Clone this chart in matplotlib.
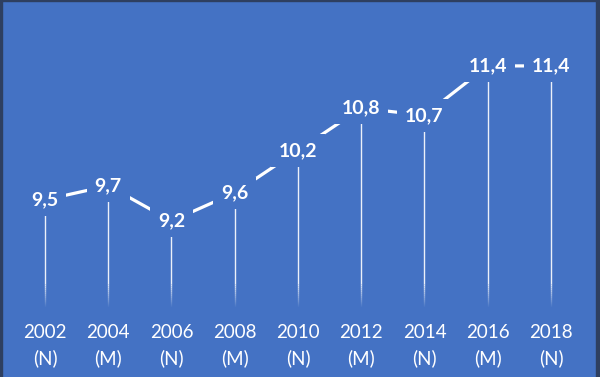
import matplotlib
matplotlib.use('Agg')

import numpy as np
import matplotlib.pyplot as plt
import matplotlib.transforms as mtransforms

years = ['2002', '2004', '2006', '2008', '2010', '2012', '2014', '2016', '2018']
parties = ['(N)', '(M)', '(N)', '(M)', '(N)', '(M)', '(N)', '(M)', '(N)']
values = [9.5, 9.7, 9.2, 9.6, 10.2, 10.8, 10.7, 11.4, 11.4]
value_labels = ['9,5', '9,7', '9,2', '9,6', '10,2', '10,8', '10,7', '11,4', '11,4']

bg = '#4472C4'
border = '#2E3F60'

fig = plt.figure(figsize=(6.0, 3.77), dpi=100)
fig.patch.set_facecolor(bg)
ax = fig.add_axes([0, 0, 1, 1])
ax.set_facecolor(bg)
ax.set_xlim(-0.711, 8.775)
ax.set_ylim(6.987, 12.335)
ax.axis('off')

x = np.arange(len(values))
ybase = 8.0

# drop lines, fading out near the bottom
for xi, v in zip(x, values):
    ax.plot([xi, xi], [8.3, v], color='white', lw=1.0, alpha=0.9, zorder=2,
            solid_capstyle='butt')
    steps = np.linspace(8.3, ybase, 12)
    for k in range(len(steps) - 1):
        a = 0.9 * (1 - (k + 1) / len(steps))
        ax.plot([xi, xi], [steps[k], steps[k + 1]], color='white', lw=1.0,
                alpha=a, zorder=2, solid_capstyle='butt')

ax.plot(x, values, color='white', lw=2.3, zorder=3, solid_capstyle='butt')

for xi, v, lab in zip(x, values, value_labels):
    ax.text(xi, v, lab, color='white', fontsize=14, fontweight='bold',
            family=['Lato', 'DejaVu Sans'], ha='center', va='center', zorder=5,
            bbox=dict(boxstyle='square,pad=0.4', fc=bg, ec='none'))

trans = mtransforms.blended_transform_factory(ax.transData, fig.transFigure)
for xi, yr, p in zip(x, years, parties):
    ax.text(xi, 1 - 333 / 377, yr, color='white', fontsize=13.5,
            family=['Lato', 'DejaVu Sans'], ha='center', va='center', transform=trans)
    ax.text(xi, 1 - 358 / 377, p, color='white', fontsize=13.5,
            family=['Lato', 'DejaVu Sans'], ha='center', va='center', transform=trans)

# thin dark frame on left, top and right
fig.patches.append(plt.Rectangle((0, 0), 2 / 600, 1, transform=fig.transFigure,
                                 color=border, zorder=10))
fig.patches.append(plt.Rectangle((0, 1 - 1 / 377), 1, 1 / 377, transform=fig.transFigure,
                                 color=border, zorder=10))
fig.patches.append(plt.Rectangle((1 - 4 / 600, 0), 4 / 600, 1, transform=fig.transFigure,
                                 color=border, zorder=10))

fig.savefig('out.png', dpi=100, facecolor=bg)
